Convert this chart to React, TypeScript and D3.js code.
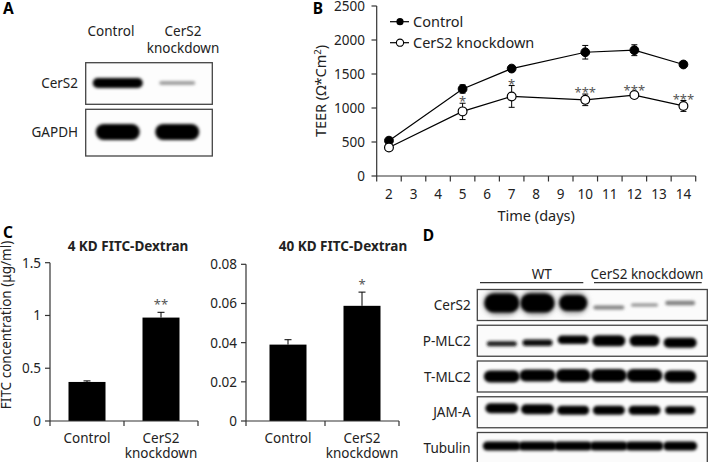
import React from "react";
import * as d3 from "d3";

// ---------- Panel B data ----------
const dayTicks = [2, 3, 4, 5, 6, 7, 8, 9, 10, 11, 12, 13, 14];
const measuredDays = [2, 5, 7, 10, 12, 14];
const controlTEER = [520, 1280, 1580, 1820, 1850, 1640];
const controlErr = [30, 60, 40, 100, 80, 35];
const kdTEER = [420, 950, 1170, 1120, 1190, 1030];
const kdErr = [40, 120, 160, 85, 40, 80];
const kdSig = ["", "*", "*", "***", "***", "***"];
const teerTicks = [0, 500, 1000, 1500, 2000, 2500];

// ---------- Panel C data ----------
const fitcGroups = ["Control", "CerS2 knockdown"];
const fitc4Values = [0.37, 0.98];
const fitc4Err = [0.01, 0.05];
const fitc4Sig = ["", "**"];
const fitc4Ticks = [0, 0.5, 1, 1.5];
const fitc40Values = [0.039, 0.0588];
const fitc40Err = [0.0025, 0.007];
const fitc40Sig = ["", "*"];
const fitc40Ticks = [0, 0.02, 0.04, 0.06, 0.08];

// ---------- Panel A blot data ----------
const blotALanes = ["Control", "CerS2 knockdown"];
const blotARows = ["CerS2", "GAPDH"];
const blotAThick = [[10, 3.5], [16, 16]];
const blotAShade = [[1, 0.42], [1, 1]];
const blotAWidth = [[50, 36], [44, 44]];

// ---------- Panel D blot data ----------
const lanesD = ["WT-1", "WT-2", "WT-3", "KD-1", "KD-2", "KD-3"];
const rowsD = ["CerS2", "P-MLC2", "T-MLC2", "JAM-A", "Tubulin"];
const thickD = [
  [19, 19, 16, 4, 3, 4.5],
  [5, 6.5, 8.5, 11, 11, 10],
  [12, 12, 13, 13, 13, 12],
  [10, 10, 9, 9, 9, 8],
  [9, 9, 9, 9, 9, 9],
];
const shadeD = [
  [1, 1, 1, 0.5, 0.45, 0.5],
  [0.9, 0.95, 1, 1, 1, 1],
  [1, 1, 1, 1, 1, 1],
  [1, 1, 1, 1, 1, 1],
  [1, 1, 1, 1, 1, 1],
];
const offsetD = [
  [-2, -2, -2, 2.5, 0, -2],
  [3, 2, -1, 0, 0, 2],
  [0, -1, -1, -1, -1, 0],
  [-4, -3, -2, -2, -2, -2],
  [-2, -2, -2, -2, -2, -2],
];
const widthD = [
  [35, 34, 28, 31, 27, 30],
  [30, 30, 31, 33, 30, 33],
  [36, 36, 35, 36, 36, 32],
  [33, 33, 32, 32, 32, 30],
  [38, 38, 38, 38, 38, 34],
];

const FONT = "'Noto Sans', 'DejaVu Sans', sans-serif";
const TXT = "#222";
const AX = "#333";
const shadeColor = (s: number) => d3.interpolateRgb("#ffffff", "#000000")(s);

function Band({ cx, cy, w, h, shade, filter }: any) {
  return (
    <rect
      x={cx - w / 2}
      y={cy - h / 2}
      width={w}
      height={h}
      rx={Math.min(h / 2, w / 2)}
      fill={shadeColor(shade)}
      filter={filter}
    />
  );
}

function PanelA() {
  const x = d3.scaleBand<string>().domain(blotALanes).range([88, 207]).padding(0);
  const boxes = [
    { y: 62.7, h: 41.6, cy: 83 },
    { y: 109.3, h: 46.7, cy: 132 },
  ];
  return (
    <g>
      <text x={3} y={14} fontSize={15.5} fontWeight="bold" fill="#000">A</text>
      <text x={111} y={36} textAnchor="middle" fontSize={13.5} fill={TXT}>Control</text>
      <text x={183} y={36} textAnchor="middle" fontSize={13.5} fill={TXT}>CerS2</text>
      <text x={183} y={52.5} textAnchor="middle" fontSize={13.5} fill={TXT}>knockdown</text>
      {blotARows.map((row, r) => (
        <g key={row}>
          <clipPath id={`clipA${r}`}>
            <rect x={85.7} y={boxes[r].y} width={126.6} height={boxes[r].h} />
          </clipPath>
          <rect x={85.7} y={boxes[r].y} width={126.6} height={boxes[r].h} fill="#fdfdfd" />
          <g clipPath={`url(#clipA${r})`}>
            {blotALanes.map((lane, i) => (
              <Band
                key={lane}
                cx={(x(lane) as number) + x.bandwidth() / 2}
                cy={boxes[r].cy}
                w={blotAWidth[r][i]}
                h={blotAThick[r][i]}
                shade={blotAShade[r][i]}
                filter="url(#blurS)"
              />
            ))}
          </g>
          <rect x={85.7} y={boxes[r].y} width={126.6} height={boxes[r].h} fill="none" stroke="#444" strokeWidth={1.3} />
          <text x={78} y={boxes[r].cy + 5} textAnchor="end" fontSize={13.5} fill={TXT}>{row}</text>
        </g>
      ))}
    </g>
  );
}

function PanelB() {
  const x = d3.scaleBand<number>().domain(dayTicks).range([376.7, 695.7]);
  const cx = (d: number) => (x(d) as number) + x.bandwidth() / 2;
  const y = d3.scaleLinear().domain([0, 2500]).range([176, 6]);
  const line = d3.line<[number, number]>().x((d) => cx(d[0])).y((d) => y(d[1]));
  const ctrlPts = measuredDays.map((d, i) => [d, controlTEER[i]] as [number, number]);
  const kdPts = measuredDays.map((d, i) => [d, kdTEER[i]] as [number, number]);
  const r = 4.4;
  const cap = 3;
  const errBar = (d: number, v: number, e: number, key: string) => (
    <g key={key} stroke="#000" strokeWidth={1}>
      <line x1={cx(d)} x2={cx(d)} y1={y(v - e)} y2={y(v + e)} />
      <line x1={cx(d) - cap} x2={cx(d) + cap} y1={y(v - e)} y2={y(v - e)} />
      <line x1={cx(d) - cap} x2={cx(d) + cap} y1={y(v + e)} y2={y(v + e)} />
    </g>
  );
  const bandEdges = dayTicks.map((d) => x(d) as number).concat([695.7]);
  return (
    <g>
      <text x={312.7} y={14} fontSize={15.5} fontWeight="bold" fill="#000">B</text>
      {/* axes */}
      <line x1={376.7} x2={376.7} y1={y(2500)} y2={y(0)} stroke={AX} strokeWidth={1.2} />
      {teerTicks.map((t) => (
        <g key={t}>
          <line x1={371.5} x2={376.7} y1={y(t)} y2={y(t)} stroke={AX} strokeWidth={1.2} />
          <text x={365} y={y(t) + 5} textAnchor="end" fontSize={13.5} fill={TXT}>{t}</text>
        </g>
      ))}
      <line x1={376.7} x2={695.7} y1={y(0)} y2={y(0)} stroke={AX} strokeWidth={1.2} />
      {bandEdges.map((e, i) => (
        <line key={i} x1={e} x2={e} y1={y(0)} y2={y(0) + 5.5} stroke={AX} strokeWidth={1.2} />
      ))}
      {dayTicks.map((d) => (
        <text key={d} x={cx(d)} y={198.5} textAnchor="middle" fontSize={13.5} fill={TXT}>{d}</text>
      ))}
      <text x={536.2} y={220.5} textAnchor="middle" fontSize={14.5} fill={TXT}>Time (days)</text>
      <text transform={`translate(326,91) rotate(-90)`} textAnchor="middle" fontSize={14.5} fill={TXT}>
        TEER (Ω*Cm<tspan dy={-5} fontSize={9.5}>2</tspan><tspan dy={5}>)</tspan>
      </text>
      {/* lines */}
      <path d={line(ctrlPts) as string} fill="none" stroke="#000" strokeWidth={1.2} />
      <path d={line(kdPts) as string} fill="none" stroke="#000" strokeWidth={1.2} />
      {measuredDays.map((d, i) => errBar(d, controlTEER[i], controlErr[i], "ce" + i))}
      {measuredDays.map((d, i) => errBar(d, kdTEER[i], kdErr[i], "ke" + i))}
      {measuredDays.map((d, i) => (
        <circle key={"c" + i} cx={cx(d)} cy={y(controlTEER[i])} r={r} fill="#000" stroke="#000" strokeWidth={1} />
      ))}
      {measuredDays.map((d, i) => (
        <circle key={"k" + i} cx={cx(d)} cy={y(kdTEER[i])} r={r} fill="#fff" stroke="#000" strokeWidth={1.2} />
      ))}
      {measuredDays.map((d, i) =>
        kdSig[i] ? (
          <text key={"s" + i} x={cx(d)} y={y(kdTEER[i] + kdErr[i]) + 3} textAnchor="middle" fontSize={13} fill="#555">
            {kdSig[i]}
          </text>
        ) : null
      )}
      {/* legend */}
      <line x1={390} x2={409} y1={21.7} y2={21.7} stroke="#000" strokeWidth={1.2} />
      <circle cx={400} cy={21.7} r={3.6} fill="#000" />
      <text x={413} y={26.5} fontSize={14.5} fill={TXT}>Control</text>
      <line x1={390} x2={409} y1={42.7} y2={42.7} stroke="#000" strokeWidth={1.2} />
      <circle cx={400} cy={42.7} r={3.6} fill="#fff" stroke="#000" strokeWidth={1.1} />
      <text x={413} y={47.5} fontSize={14.5} fill={TXT}>CerS2 knockdown</text>
    </g>
  );
}

function BarChart({ axisX, range, yTop, max, ticks, values, errs, sigs, title, titleX, fmt }: any) {
  const x = d3.scaleBand<string>().domain(fitcGroups).range(range).paddingInner(0.5).paddingOuter(0.25);
  const y = d3.scaleLinear().domain([0, max]).range([421, yTop]);
  const mid = (range[0] + range[1]) / 2;
  return (
    <g>
      <text x={titleX} y={251} textAnchor="middle" fontSize={13.5} fontWeight="bold" fill={TXT}>{title}</text>
      {fitcGroups.map((g, i) => {
        const bx = x(g) as number;
        const c = bx + x.bandwidth() / 2;
        const top = y(values[i] + errs[i]);
        return (
          <g key={g}>
            <rect x={bx} y={y(values[i])} width={x.bandwidth()} height={421 - y(values[i])} fill="#000" />
            <line x1={c} x2={c} y1={y(values[i])} y2={top} stroke="#000" strokeWidth={1} />
            <line x1={c - 3.5} x2={c + 3.5} y1={top} y2={top} stroke="#000" strokeWidth={1} />
            {sigs[i] ? (
              <text x={c} y={top - 3} textAnchor="middle" fontSize={13} fill="#555">{sigs[i]}</text>
            ) : null}
          </g>
        );
      })}
      <line x1={axisX} x2={axisX} y1={y(max)} y2={421} stroke={AX} strokeWidth={1.2} />
      {ticks.map((t: number) => (
        <g key={t}>
          <line x1={axisX - 5} x2={axisX} y1={y(t)} y2={y(t)} stroke={AX} strokeWidth={1.2} />
          <text x={axisX - 9} y={y(t) + 5} textAnchor="end" fontSize={13.5} fill={TXT}>{fmt(t)}</text>
        </g>
      ))}
      <line x1={axisX} x2={range[1]} y1={421} y2={421} stroke={AX} strokeWidth={1.2} />
      {[axisX, mid, range[1]].map((tx, i) => (
        <line key={i} x1={tx} x2={tx} y1={421} y2={426} stroke={AX} strokeWidth={1.2} />
      ))}
      {fitcGroups.map((g) => {
        const c = (x(g) as number) + x.bandwidth() / 2;
        const parts = g === "Control" ? ["Control"] : ["CerS2", "knockdown"];
        return parts.map((p, k) => (
          <text key={g + k} x={c} y={442.5 + k * 15} textAnchor="middle" fontSize={13.5} fill={TXT}>{p}</text>
        ));
      })}
    </g>
  );
}

function PanelC() {
  return (
    <g>
      <text x={3} y={238.3} fontSize={15.5} fontWeight="bold" fill="#000">C</text>
      <text transform="translate(11,325) rotate(-90)" textAnchor="middle" fontSize={13.5} fill={TXT}>
        FITC concentration (μg/ml)
      </text>
      <BarChart
        axisX={50}
        range={[50, 198]}
        yTop={262.7}
        max={1.5}
        ticks={fitc4Ticks}
        values={fitc4Values}
        errs={fitc4Err}
        sigs={fitc4Sig}
        title="4 KD FITC-Dextran"
        titleX={128}
        fmt={(t: number) => String(t)}
      />
      <BarChart
        axisX={246}
        range={[251, 399]}
        yTop={264.3}
        max={0.08}
        ticks={fitc40Ticks}
        values={fitc40Values}
        errs={fitc40Err}
        sigs={fitc40Sig}
        title="40 KD FITC-Dextran"
        titleX={343}
        fmt={(t: number) => (t === 0 ? "0" : t.toFixed(2))}
      />
    </g>
  );
}

function PanelD() {
  const x = d3.scaleBand<string>().domain(lanesD).range([484, 698]);
  const boxX = 477.3;
  const boxW = 230;
  const boxH = 31;
  const boxY = (i: number) => 289.5 + i * 35.75;
  return (
    <g>
      <text x={422.7} y={240.7} fontSize={15.5} fontWeight="bold" fill="#000">D</text>
      <text x={541.7} y={278.5} textAnchor="middle" fontSize={13.5} fill={TXT}>WT</text>
      <line x1={480} x2={583.3} y1={282.7} y2={282.7} stroke="#333" strokeWidth={1.2} />
      <text x={647} y={278.5} textAnchor="middle" fontSize={13.5} fill={TXT}>CerS2 knockdown</text>
      <line x1={594} x2={701.7} y1={282.7} y2={282.7} stroke="#333" strokeWidth={1.2} />
      {rowsD.map((row, r) => {
        const y0 = boxY(r);
        const cy = y0 + boxH / 2;
        return (
          <g key={row}>
            <clipPath id={`clipD${r}`}>
              <rect x={boxX} y={y0} width={boxW} height={boxH} />
            </clipPath>
            <rect x={boxX} y={y0} width={boxW} height={boxH} fill="#fbfbfb" />
            <g clipPath={`url(#clipD${r})`}>
              {r === 0
                ? lanesD.slice(0, 3).map((lane, i) => (
                    <Band
                      key={"h" + lane}
                      cx={(x(lane) as number) + x.bandwidth() / 2}
                      cy={cy + offsetD[r][i]}
                      w={widthD[r][i] + 2}
                      h={thickD[r][i] + 6}
                      shade={0.35}
                      filter="url(#blurL)"
                    />
                  ))
                : null}
              {lanesD.map((lane, i) => (
                <Band
                  key={lane}
                  cx={(x(lane) as number) + x.bandwidth() / 2}
                  cy={cy + offsetD[r][i]}
                  w={widthD[r][i]}
                  h={thickD[r][i]}
                  shade={shadeD[r][i]}
                  filter="url(#blurS)"
                />
              ))}
            </g>
            <rect x={boxX} y={y0} width={boxW} height={boxH} fill="none" stroke="#444" strokeWidth={1.3} />
            <text x={470.7} y={cy + 5} textAnchor="end" fontSize={13.5} fill={TXT}>{row}</text>
          </g>
        );
      })}
    </g>
  );
}

export default function App() {
  return (
    <svg
      width={709}
      height={462}
      viewBox="0 0 709 462"
      style={{ position: "absolute", left: 0, top: 0, background: "#fff" }}
      fontFamily={FONT}
    >
      <defs>
        <filter id="blurS" x="-30%" y="-100%" width="160%" height="300%">
          <feGaussianBlur stdDeviation="1.4" />
        </filter>
        <filter id="blurL" x="-30%" y="-100%" width="160%" height="300%">
          <feGaussianBlur stdDeviation="2.5" />
        </filter>
      </defs>
      <rect x={0} y={0} width={709} height={462} fill="#fff" />
      <PanelA />
      <PanelB />
      <PanelC />
      <PanelD />
    </svg>
  );
}
